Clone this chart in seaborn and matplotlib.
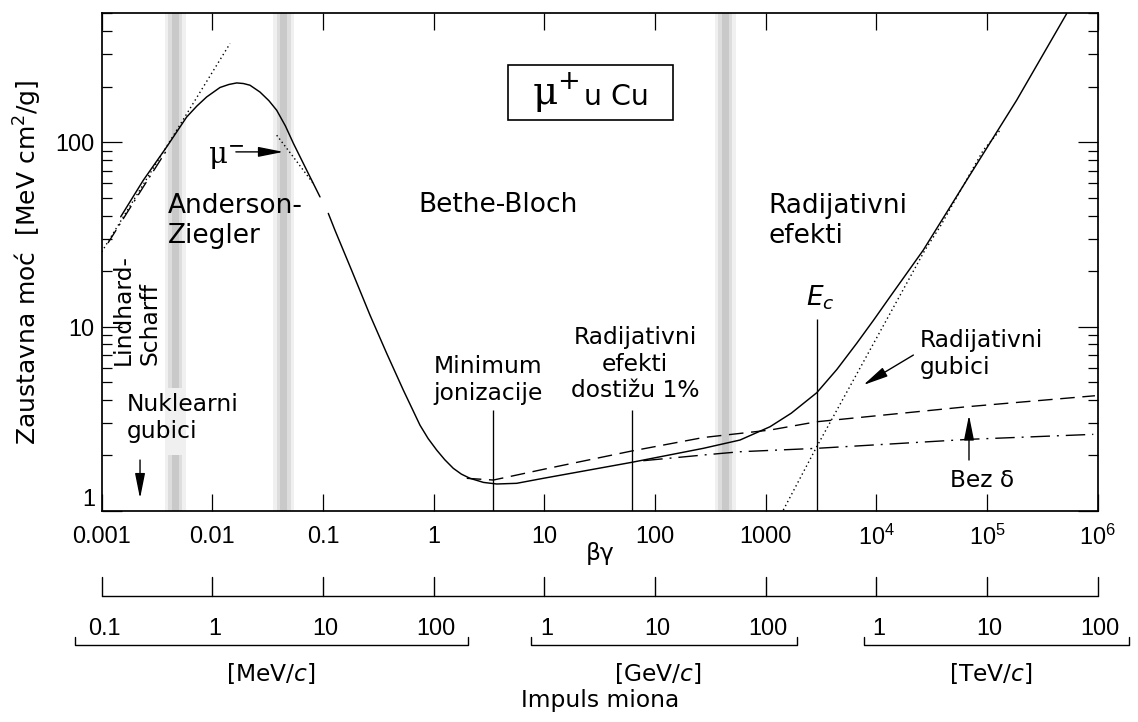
import numpy as np
import pandas as pd
import matplotlib
matplotlib.use("Agg")
import matplotlib.pyplot as plt
import matplotlib.transforms as mtransforms
from matplotlib.patches import Rectangle
from matplotlib.ticker import NullLocator, LogLocator, NullFormatter
import seaborn as sns

# ---------------- data ----------------
# total stopping power, mu+ in Cu (two pieces, gap near beta*gamma ~ 0.1)
bg_total_low = [0.001485, 0.002377, 0.003866, 0.005861, 0.00724, 0.008888, 0.01172, 0.0141,
                0.01659, 0.0191, 0.02186, 0.02694, 0.0324, 0.03813, 0.0457, 0.05386,
                0.07117, 0.09389]
s_total_low = [39.4, 62.2, 94.3, 137.0, 157.0, 176.0, 198.0, 205.6,
               209.6, 208.0, 203.7, 187.0, 168.0, 149.0, 122.5, 98.8,
               70.5, 50.5]
bg_total_high = [0.1116, 0.1282, 0.18, 0.2657, 0.376, 0.531, 0.7516, 0.891, 1.064, 1.259,
                 1.503, 1.778, 2.128, 2.818, 3.71, 5.62, 9.78, 61.5, 273.0, 586.0, 1094.0,
                 1700.0, 2890.0, 4400.0, 6637.0, 9500.0, 13280.0, 26550.0, 65460.0,
                 185300.0, 524800.0]
s_total_high = [41.1, 33.3, 20.4, 11.54, 7.16, 4.53, 2.92, 2.47, 2.14, 1.897,
                1.704, 1.585, 1.504, 1.429, 1.401, 1.413, 1.504, 1.836, 2.187, 2.426, 2.864,
                3.39, 4.377, 5.86, 8.11, 10.9, 14.5, 26.0, 62.2,
                169.0, 498.5]
# ionisation with delta rays (dashed)
bg_ion = [1.99, 3.46, 10.1, 61.5, 273.0, 1094.0, 2890.0, 65460.0, 944000.0]
s_ion = [1.504, 1.472, 1.689, 2.115, 2.503, 2.748, 3.048, 3.675, 4.217]
# restricted, without delta (dash-dot)
bg_nodelta = [78.3, 273.0, 586.0, 2890.0, 68700.0, 912000.0]
s_nodelta = [1.874, 2.012, 2.096, 2.187, 2.447, 2.604]
# radiative losses (dotted)
bg_rad = [1442.0, 2890.0, 27480.0, 37570.0, 92500.0, 130900.0]
s_rad = [1.012, 2.231, 26.0, 34.75, 90.5, 116.0]
# Lindhard-Scharff (dotted)
bg_ls = [0.001, 0.01443]
s_ls = [25.4, 342.7]
# low-energy extrapolation (dash-dot)
bg_az = [0.00114, 0.002377, 0.003866]
s_az = [28.4, 57.25, 90.5]
# mu- (dotted)
bg_mum = [0.03813, 0.05386, 0.08169]
s_mum = [109.1, 83.2, 59.7]
# vertical markers: beta*gamma, top value
vline_bg = [3.41, 61.5, 2890.0]
vline_top = [3.53, 3.53, 10.94]
# shaded transition bands (centres, beta*gamma)
band_centres = [0.00464, 0.0442, 431.0]

x_ticks = [0.001, 0.01, 0.1, 1, 10, 100, 1000, 1e4, 1e5, 1e6]
x_ticklabels = ["0.001", "0.01", "0.1", "1", "10", "100", "1000",
                r"$\mathregular{10^4}$", r"$\mathregular{10^5}$", r"$\mathregular{10^6}$"]
y_ticks = [1, 10, 100]
y_ticklabels = ["1", "10", "100"]

mev_vals = [0.1, 1, 10, 100]
gev_vals = [1, 10, 100]
tev_vals = [1, 10, 100]

# ---------------- style ----------------
sns.set_style("ticks")
plt.rcParams['font.family'] = ['DejaVu Sans']
plt.rcParams['mathtext.fontset'] = 'dejavusans'
for k in ['text.color', 'axes.labelcolor', 'xtick.color', 'ytick.color', 'axes.edgecolor']:
    plt.rcParams[k] = 'black'
FS = 16.8
FS_BIG = 19
NUMFONT = 'Liberation Sans'

fig = plt.figure(figsize=(11.38, 7.22), dpi=100)
ax = fig.add_axes([0.08937, 0.29224, 0.87522, 0.68934])
ax.set_xscale('log')
ax.set_yscale('log')

# ---------------- shaded bands ----------------
y_gap_lo = np.log10(2.0) / np.log10(500)
y_gap_hi = np.log10(4.62) / np.log10(500)
for i, c in enumerate(band_centres):
    ax.axvspan(c / 10**0.095, c * 10**0.095, color='#f0f0f0', lw=0, zorder=0)
    for hw, col in [(0.063, '#dddddd'), (0.03, '#c9c9c9')]:
        if i == 0:
            ax.axvspan(c / 10**hw, c * 10**hw, ymin=0, ymax=y_gap_lo, color=col, lw=0, zorder=0)
            ax.axvspan(c / 10**hw, c * 10**hw, ymin=y_gap_hi, ymax=1, color=col, lw=0, zorder=0)
        else:
            ax.axvspan(c / 10**hw, c * 10**hw, color=col, lw=0, zorder=0)

# ---------------- curves ----------------
def draw(x, y, lw=1.05, **kw):
    sns.lineplot(x=x, y=y, ax=ax, estimator=None, sort=False, color='black',
                 lw=lw, legend=False, **kw)

draw(bg_total_low, s_total_low)
draw(bg_total_high, s_total_high)
draw(bg_ion, s_ion, lw=1.0, linestyle=(0, (10.5, 5.5)))
draw(bg_nodelta, s_nodelta, lw=1.0, linestyle=(0, (14, 5, 1.4, 5)))
draw(bg_rad, s_rad, lw=1.0, linestyle=(0, (1, 2.2)))
draw(bg_ls, s_ls, lw=1.0, linestyle=(0, (1, 2.2)))
draw(bg_az, s_az, lw=1.0, linestyle=(0, (11, 4, 1.4, 4)))
draw(bg_mum, s_mum, lw=1.0, linestyle=(0, (1, 2.0)))

ax.vlines(vline_bg, [1, 1, 1], vline_top, color='black', lw=0.95, zorder=2)

# ---------------- axes ----------------
ax.set_xlim(1e-3, 1e6)
ax.set_ylim(1, 500)
ax.set_xticks(x_ticks, x_ticklabels, fontfamily=NUMFONT, fontsize=FS)
ax.xaxis.set_minor_locator(NullLocator())
ax.set_yticks(y_ticks, y_ticklabels, fontfamily=NUMFONT, fontsize=FS)
ax.yaxis.set_minor_locator(LogLocator(base=10, subs=np.arange(2, 10)))
ax.yaxis.set_minor_formatter(NullFormatter())
ax.tick_params(axis='x', which='major', direction='in', length=12, width=0.9,
               top=True, bottom=True, pad=10)
ax.tick_params(axis='y', which='major', direction='in', length=14.4, width=0.9,
               left=True, right=True, pad=5)
ax.tick_params(axis='y', which='minor', direction='in', length=7.2, width=0.9,
               left=True, right=True)
ax.yaxis.get_major_ticks()[0].label1.set_verticalalignment('bottom')
for sp in ax.spines.values():
    sp.set_linewidth(1.25)
    sp.set_color('black')

ax.set_ylabel(r"Zaustavna moć  [MeV cm$^2$/g]", fontsize=18)
ax.yaxis.set_label_coords(-0.0584, 0.5)
ax.set_xlabel("")
ax.text(0.5, -0.0844, "βγ", transform=ax.transAxes, ha='center', va='center', fontsize=FS)

# ---------------- annotations ----------------
tk = dict(fontsize=FS, color='black')
tb = dict(fontsize=FS_BIG, color='black')
ax.text(0.00397, 37.3, "Anderson-\nZiegler", ha='left', va='center', **tb)
ax.text(0.72, 45.6, "Bethe-Bloch", ha='left', va='center', **tb)
ax.text(1050, 37.3, "Radijativni\nefekti", ha='left', va='center', **tb)
ax.text(3.11, 5.13, "Minimum\njonizacije", ha='center', va='center', multialignment='center', **tk)
ax.text(65.9, 6.26, "Radijativni\nefekti\ndostižu 1%", ha='center', va='center',
        multialignment='center', **tk)
ax.text(0.0017, 3.19, "Nuklearni\ngubici", ha='left', va='center', **tk)
ax.text(0.00208, 6.18, "Lindhard-\nScharff", rotation=90, ha='center', va='bottom',
        multialignment='left', **tk)
ax.text(3100, 13.08, r"$E_c$", ha='center', va='baseline', fontsize=19)
ax.text(24770, 7.1, "Radijativni\ngubici", ha='left', va='center', **tk)
ax.text(46200, 1.47, "Bez δ", ha='left', va='center', **tk)
ax.text(0.00914, 76.6, r"μ$^{-}$", ha='left', va='baseline', fontsize=21,
        fontfamily='DejaVu Serif')

ap = dict(arrowstyle='-|>,head_length=0.85,head_width=0.17', color='black', lw=1.0,
          mutation_scale=18, shrinkA=0, shrinkB=0)
ax.annotate("", xy=(0.0438, 88.6), xytext=(0.0163, 88.6), arrowprops=ap)
ax.annotate("", xy=(7620, 4.82), xytext=(21600, 7.01), arrowprops=ap)
ax.annotate("", xy=(68700, 3.31), xytext=(68700, 1.89), arrowprops=ap)
ax.annotate("", xy=(0.00222, 1.17), xytext=(0.00222, 1.89), arrowprops=ap)

# title box
ax.add_patch(Rectangle((0.4082, 0.7856), 0.1657, 0.1105, transform=ax.transAxes,
                       fill=True, fc='white', ec='black', lw=1.2, zorder=5))
ax.text(0.4320, 0.8158, r"μ$^{+}$", transform=ax.transAxes, ha='left', va='baseline',
        fontsize=28, fontfamily='DejaVu Serif', zorder=6)
ax.text(0.4840, 0.8158, "u Cu", transform=ax.transAxes, ha='left', va='baseline',
        fontsize=20.5, zorder=6)

# ---------------- momentum scales ----------------
trans = mtransforms.blended_transform_factory(ax.transData, ax.transAxes)
lk = dict(transform=trans, clip_on=False, color='black', lw=1.0)
y_up, y_up_t = -0.1708, -0.1336
ax.plot([x_ticks[0], x_ticks[-1]], [y_up, y_up], **lk)
for xt in x_ticks:
    ax.plot([xt, xt], [y_up, y_up_t], **lk)

y_lab, y_br, y_br_t, y_unit = -0.2351, -0.2702, -0.2532, -0.3255
groups = [
    (mev_vals, 0.01, [0.057, 204.0], 3.4, "[MeV/$c$]"),
    (gev_vals, 10.0, [0.764, 193.6], 10.5, "[GeV/$c$]"),
    (tev_vals, 1e4, [0.769, 193.0], 10.8, "[TeV/$c$]"),
]
for vals, scale, rng, upos, unit in groups:
    x0, x1 = rng[0] * scale, rng[1] * scale
    ax.plot([x0, x0, x1, x1], [y_br_t, y_br, y_br, y_br_t], **lk)
    for v in vals:
        ax.text(v * scale * 1.05, y_lab, f"{v:g}", transform=trans, ha='center', va='center',
                fontsize=FS, fontfamily=NUMFONT, clip_on=False)
    ax.text(upos * scale, y_unit, unit, transform=trans, ha='center', va='center',
            fontsize=FS, clip_on=False)

ax.text(0.5, -0.381, "Impuls miona", transform=ax.transAxes, ha='center', va='center',
        fontsize=FS)

fig.savefig("out.png", dpi=100)
